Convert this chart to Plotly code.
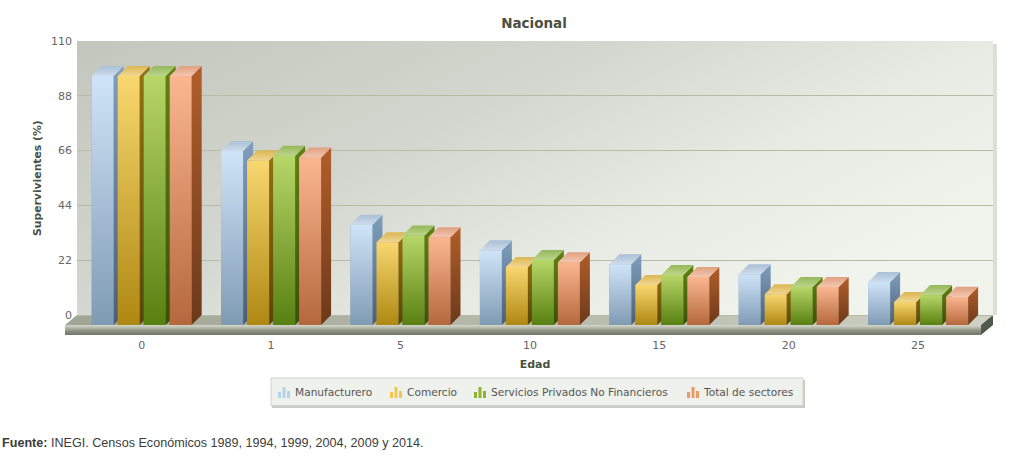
import plotly.graph_objects as go
from urllib.parse import quote

# ---- data ----
categories = ["0", "1", "5", "10", "15", "20", "25"]
manufacturero = [100, 69.9, 40.2, 30, 24.4, 20.4, 17.3]
comercio = [100, 66, 33.2, 23.3, 16.1, 12.3, 9.2]
servicios = [100, 67.9, 35.9, 26.1, 20.1, 15.3, 12]
total = [100, 67.2, 35.2, 25.2, 19.3, 15.3, 11.3]
series_names = ["Manufacturero", "Comercio", "Servicios Privados No Financieros", "Total de sectores"]
series_values = [manufacturero, comercio, servicios, total]
y_ticks = [0, 22, 44, 66, 88, 110]

# ---- styles ----
W, H = 1024, 476
styles = [
    dict(front=("#cfe4f8", "#7f9bb4"), side=("#7f9fbe", "#4a5f74"), top=("#a9c0d6", "#cddcea"), icon="#b5d2ec"),
    dict(front=("#f9d76f", "#ae8812"), side=("#937310", "#594508"), top=("#dcb652", "#f0d694"), icon="#f2c84e"),
    dict(front=("#b7d768", "#588010"), side=("#618210", "#39500a"), top=("#95b85a", "#bcd58c"), icon="#8db52e"),
    dict(front=("#fbb690", "#b5683c"), side=("#b25e2a", "#6c391b"), top=("#e0a080", "#f3c6b0"), icon="#ee9a68"),
]
PX_PER_UNIT = 274 / 110
DEPTH_PX = 10
PITCH = 129.4
SLOT = 26 / PITCH
BAR = 22 / PITCH
DX = DEPTH_PX / PITCH
DY = DEPTH_PX / PX_PER_UNIT
X_LEFT, X_RIGHT, Y_TOP, Y_BOTTOM = 77, 993, 41, 335
x_range = [-0.5, -0.5 + (X_RIGHT - X_LEFT) / PITCH]
y_range = [-(Y_BOTTOM - 315) / PX_PER_UNIT, 110]


def px(x):
    return x / W


def py(y):
    return 1 - y / H


fig = go.Figure()
xs = list(range(len(categories)))


def poly(xv, yv, grad):
    fig.add_trace(go.Scatter(
        x=xv + xv[:1], y=yv + yv[:1], mode="lines", line=dict(width=0), fill="toself",
        fillgradient=dict(type="vertical", colorscale=[[0, grad[1]], [1, grad[0]]]),
        hoverinfo="skip", showlegend=False))


for s, (name, vals, st) in enumerate(zip(series_names, series_values, styles)):
    fig.add_trace(go.Bar(x=xs, y=vals, base=[-DY] * len(vals), name=name, showlegend=False,
                         marker=dict(color=st["front"][1], line=dict(width=0))))
    for xc, v in zip(xs, vals):
        x0 = xc + (s - 2) * SLOT + (SLOT - BAR) / 2
        x1 = x0 + BAR
        ytop = v - DY
        poly([x0, x1, x1, x0], [-DY, -DY, ytop, ytop], st["front"])
        poly([x1, x1 + DX, x1 + DX, x1], [-DY, 0, v, ytop], st["side"])
        poly([x0, x1, x1 + DX, x0 + DX], [ytop, ytop, v, v], st["top"])

wall_svg = ("<svg xmlns='http://www.w3.org/2000/svg' width='916' height='274'>"
            "<defs><linearGradient id='g' x1='0' y1='0' x2='1' y2='0.6'>"
            "<stop offset='0' stop-color='#c2c6bc'/><stop offset='0.44' stop-color='#d4d7cf'/>"
            "<stop offset='0.74' stop-color='#e8ebe4'/><stop offset='1' stop-color='#f1f3ed'/>"
            "</linearGradient></defs><rect width='916' height='274' fill='url(#g)'/></svg>")
floor_svg = ("<svg xmlns='http://www.w3.org/2000/svg' width='928' height='10'>"
             "<defs><linearGradient id='f' x1='0' y1='0' x2='1' y2='0'>"
             "<stop offset='0' stop-color='#a0a595'/><stop offset='1' stop-color='#cdd0c2'/>"
             "</linearGradient></defs><polygon points='12,0 928,0 916,10 0,10' fill='url(#f)'/></svg>")
images = [
    dict(source="data:image/svg+xml," + quote(wall_svg), xref="paper", yref="paper",
         x=px(X_LEFT), y=py(Y_TOP), sizex=916 / W, sizey=274 / H, sizing="stretch",
         xanchor="left", yanchor="top", layer="below"),
    dict(source="data:image/svg+xml," + quote(floor_svg), xref="paper", yref="paper",
         x=px(65), y=py(315), sizex=928 / W, sizey=10 / H, sizing="stretch",
         xanchor="left", yanchor="top", layer="below"),
]


def path(points):
    return "M" + " L".join(f"{px(a):.5f},{py(b):.5f}" for a, b in points) + " Z"


shapes = [
    # wall shadow
    dict(type="rect", xref="paper", yref="paper", x0=px(993), x1=px(997), y0=py(315), y1=py(44),
         fillcolor="#dcdfd8", line_width=0, layer="below"),
    # floor end
    dict(type="path", xref="paper", yref="paper", path=path([(981, 325), (993, 315), (993, 325), (981, 335)]),
         fillcolor="#4f5a4c", line_width=0, layer="below"),
    # legend box + shadow
    dict(type="rect", xref="paper", yref="paper", x0=px(272), x1=px(805), y0=py(380), y1=py(408),
         fillcolor="#c9cbc6", line_width=0, layer="below"),
    dict(type="rect", xref="paper", yref="paper", x0=px(271), x1=px(803), y0=py(378), y1=py(405.5),
         fillcolor="#eff1ec", line=dict(color="#d0d3cb", width=1), layer="below"),
]
# front of floor as thin stacked bands
for i, c in enumerate(["#cfd3c7", "#c4c8ba", "#b7bcad", "#aaafa0", "#9da292", "#919686", "#888d7d", "#808575", "#7a7f70", "#75796a"]):
    shapes.append(dict(type="rect", xref="paper", yref="paper", x0=px(65), x1=px(981),
                       y0=py(325 + i), y1=py(326 + i), fillcolor=c, line_width=0, layer="below"))

annotations = [
    dict(text="Supervivientes (%)", xref="paper", yref="paper", x=px(37), y=py(178), textangle=-90,
         xanchor="center", yanchor="middle", showarrow=False,
         font=dict(family="DejaVu Sans", size=10.8, color="#4a5040", weight="bold")),
    dict(text="<b>Fuente:</b> INEGI. Censos Económicos 1989, 1994, 1999, 2004, 2009 y 2014.",
         xref="paper", yref="paper", x=px(0), y=py(443), xanchor="left", yanchor="middle", showarrow=False,
         font=dict(family="Liberation Sans", size=12.6, color="#3c3c3c")),
]
legend_icon_x = [278, 390, 474, 687]
legend_text_x = [293, 405, 489, 701]
for name, st, ix, tx in zip(series_names, styles, legend_icon_x, legend_text_x):
    annotations.append(dict(text=name, xref="paper", yref="paper", x=px(tx), y=py(392), xanchor="left",
                            yanchor="middle", showarrow=False,
                            font=dict(family="DejaVu Sans", size=10.6, color="#555555")))
    for off, top in zip((0, 4.5, 9), (392, 387, 391)):
        shapes.append(dict(type="rect", xref="paper", yref="paper", x0=px(ix + off), x1=px(ix + off + 3),
                           y0=py(398), y1=py(top), fillcolor=st["icon"], line_width=0))

fig.update_layout(
    width=W, height=H, margin=dict(l=0, r=0, t=0, b=0), paper_bgcolor="white", plot_bgcolor="rgba(0,0,0,0)",
    barmode="group", bargap=(PITCH - 4 * 26) / PITCH, bargroupgap=4 / 26, showlegend=False,
    title=dict(text="<b>Nacional</b>", x=534 / W, y=py(23.5), xanchor="center", yanchor="middle",
               font=dict(family="DejaVu Sans", size=13.5, color="#4a5040")),
    xaxis=dict(domain=[px(X_LEFT), px(X_RIGHT)], range=x_range, tickmode="array", tickvals=xs, ticktext=categories,
               automargin=False, showgrid=False, zeroline=False, showline=False, ticks="", ticklabelstandoff=2,
               tickfont=dict(family="DejaVu Sans", size=11, color="#666666"),
               title=dict(text="<b>Edad</b>", standoff=9, font=dict(family="DejaVu Sans", size=11, color="#4a5040"))),
    yaxis=dict(domain=[py(Y_BOTTOM), py(Y_TOP)], range=y_range, tickmode="array", tickvals=y_ticks,
               automargin=False, showgrid=True, gridcolor="#b4bca4", gridwidth=1, zeroline=False, showline=False,
               ticks="", ticklabelstandoff=4, tickfont=dict(family="DejaVu Sans", size=11, color="#666666")),
    images=images, shapes=shapes, annotations=annotations,
)
fig.write_html("out.html", config=dict(displayModeBar=False),
               post_script="document.body.style.margin='0';document.documentElement.style.overflow='hidden';")
